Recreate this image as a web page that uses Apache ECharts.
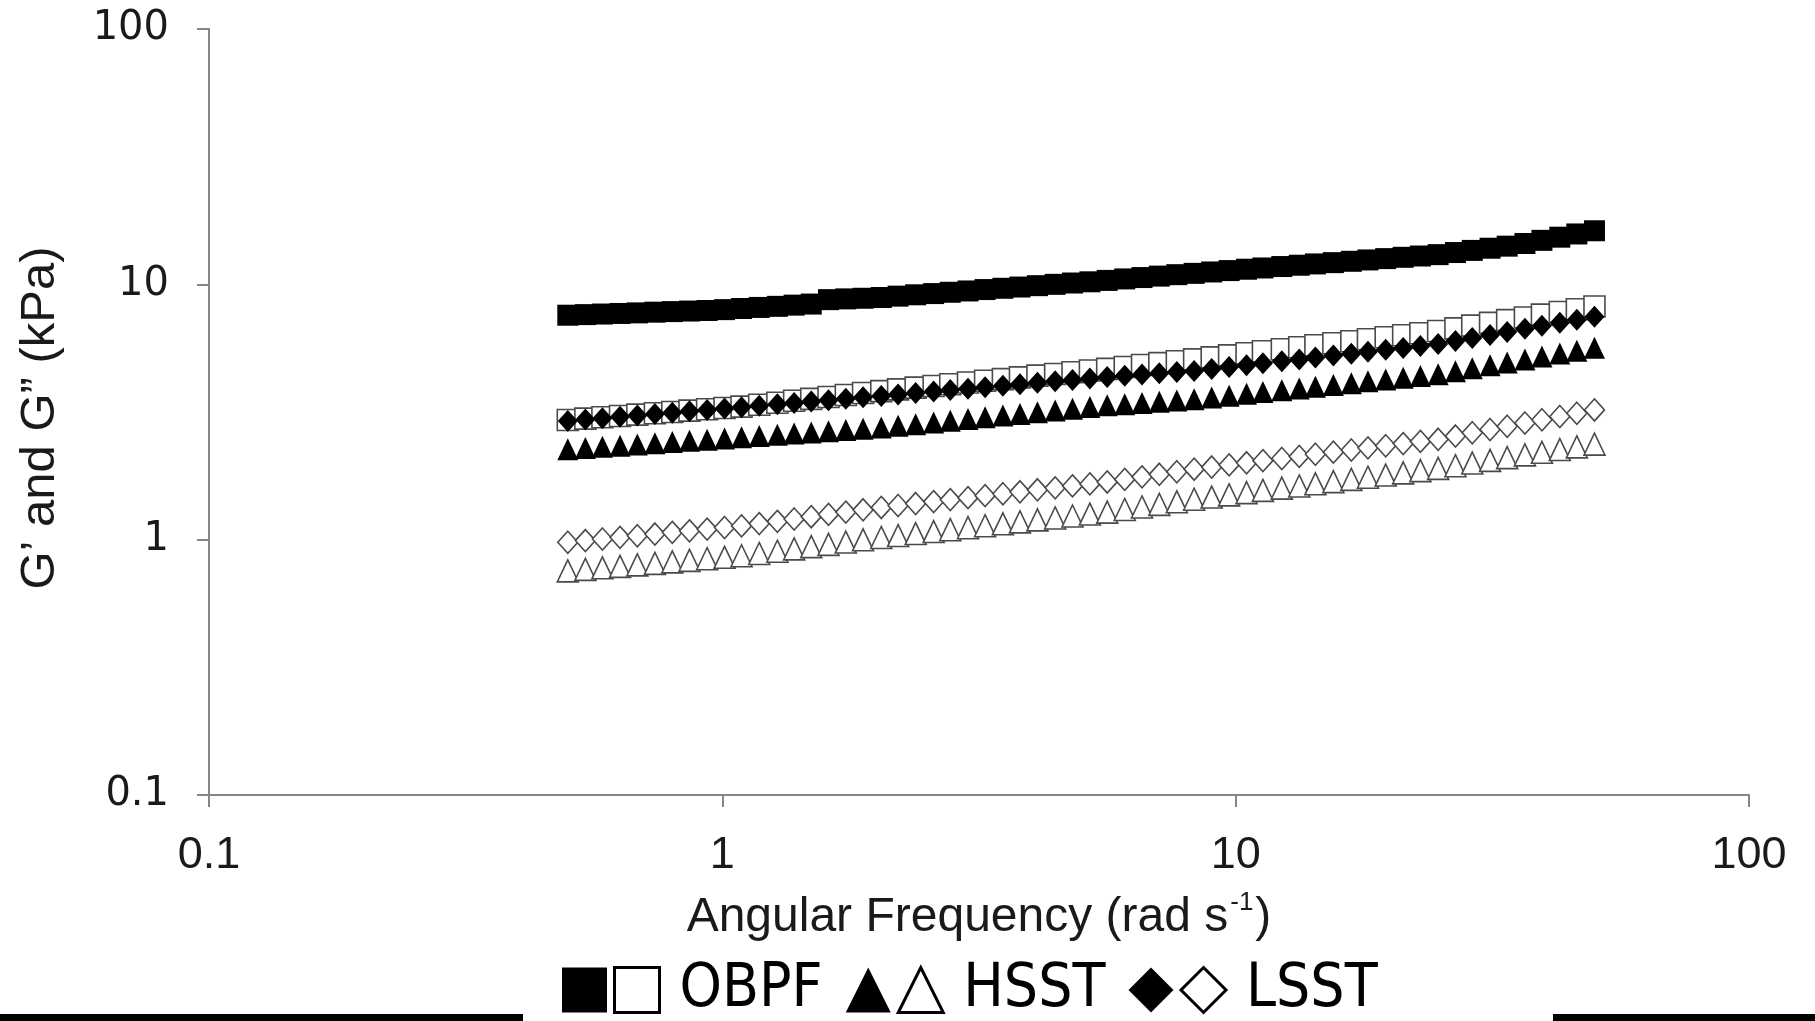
<!DOCTYPE html>
<html>
<head>
<meta charset="utf-8">
<script src="https://cdn.jsdelivr.net/npm/echarts@6/dist/echarts.min.js"></script>
<style>
html,body{margin:0;padding:0;background:#fff;}
#chart{width:1815px;height:1021px;}
</style>
</head>
<body>
<div id="chart"></div>
<script>
// Angular frequency (rad/s)
const freq = [0.5, 0.541, 0.584, 0.632, 0.683, 0.739, 0.799, 0.863, 0.934, 1.01,
  1.09, 1.18, 1.28, 1.38, 1.49, 1.61, 1.74, 1.88, 2.04, 2.20,
  2.38, 2.58, 2.78, 3.01, 3.25, 3.52, 3.80, 4.11, 4.45, 4.81,
  5.20, 5.62, 6.08, 6.57, 7.10, 7.68, 8.30, 8.98, 9.71, 10.5,
  11.3, 12.3, 13.3, 14.3, 15.5, 16.8, 18.1, 19.6, 21.2, 22.9,
  24.8, 26.8, 28.9, 31.3, 33.8, 36.6, 39.5, 42.8, 46.2, 50.0];

// OBPF G' (filled squares), kPa
const obpfG1 = [7.57, 7.61, 7.65, 7.69, 7.73, 7.78, 7.82, 7.86, 7.90, 7.96,
  8.04, 8.12, 8.20, 8.29, 8.37, 8.71, 8.77, 8.82, 8.88, 8.99,
  9.10, 9.20, 9.31, 9.42, 9.54, 9.65, 9.76, 9.88, 10.00, 10.12,
  10.23, 10.36, 10.50, 10.63, 10.77, 10.91, 11.04, 11.18, 11.32, 11.46,
  11.59, 11.74, 11.88, 12.02, 12.16, 12.31, 12.46, 12.61, 12.76, 12.91,
  13.07, 13.32, 13.58, 13.85, 14.11, 14.45, 14.87, 15.30, 15.75, 16.21];
// OBPF G'' (open squares)
const obpfG2 = [2.944, 2.980, 3.016, 3.052, 3.089, 3.126, 3.163, 3.201, 3.240, 3.279,
  3.319, 3.378, 3.437, 3.498, 3.560, 3.622, 3.686, 3.751, 3.819, 3.878,
  3.938, 4.000, 4.062, 4.125, 4.189, 4.254, 4.320, 4.388, 4.457, 4.526,
  4.597, 4.667, 4.747, 4.829, 4.912, 4.996, 5.082, 5.176, 5.271, 5.368,
  5.466, 5.567, 5.669, 5.773, 5.879, 5.987, 6.095, 6.207, 6.321, 6.437,
  6.561, 6.725, 6.893, 7.065, 7.241, 7.417, 7.607, 7.797, 7.992, 8.185];
// HSST G' (filled triangles)
const hsstG1 = [2.259, 2.284, 2.309, 2.334, 2.360, 2.385, 2.411, 2.438, 2.464, 2.491,
  2.518, 2.546, 2.573, 2.602, 2.630, 2.659, 2.688, 2.718, 2.748, 2.791,
  2.834, 2.878, 2.923, 2.968, 3.015, 3.061, 3.109, 3.157, 3.206, 3.256,
  3.307, 3.357, 3.394, 3.432, 3.470, 3.509, 3.548, 3.606, 3.664, 3.724,
  3.784, 3.846, 3.908, 3.972, 4.036, 4.102, 4.169, 4.236, 4.305, 4.375,
  4.446, 4.566, 4.690, 4.816, 4.945, 5.079, 5.215, 5.356, 5.500, 5.649];
// HSST G'' (open triangles)
const hsstG2 = [0.755, 0.765, 0.776, 0.786, 0.797, 0.808, 0.819, 0.830, 0.842, 0.853,
  0.865, 0.883, 0.901, 0.920, 0.939, 0.959, 0.979, 0.999, 1.020, 1.038,
  1.057, 1.076, 1.094, 1.114, 1.134, 1.154, 1.174, 1.195, 1.216, 1.238,
  1.260, 1.282, 1.313, 1.343, 1.375, 1.407, 1.440, 1.469, 1.498, 1.529,
  1.560, 1.591, 1.623, 1.655, 1.688, 1.722, 1.756, 1.791, 1.827, 1.864,
  1.901, 1.948, 1.996, 2.045, 2.095, 2.147, 2.199, 2.254, 2.309, 2.366];
// LSST G' (filled diamonds)
const lsstG1 = [2.917, 2.953, 2.990, 3.028, 3.066, 3.105, 3.143, 3.183, 3.223, 3.263,
  3.304, 3.346, 3.388, 3.431, 3.475, 3.519, 3.565, 3.610, 3.656, 3.705,
  3.754, 3.803, 3.853, 3.904, 3.956, 4.008, 4.061, 4.115, 4.169, 4.224,
  4.280, 4.335, 4.384, 4.432, 4.482, 4.531, 4.581, 4.661, 4.742, 4.825,
  4.909, 4.994, 5.082, 5.170, 5.260, 5.352, 5.445, 5.540, 5.636, 5.734,
  5.834, 5.996, 6.164, 6.336, 6.512, 6.694, 6.881, 7.073, 7.270, 7.472];
// LSST G'' (open diamonds)
const lsstG2 = [0.977, 0.992, 1.006, 1.021, 1.036, 1.052, 1.068, 1.083, 1.100, 1.116,
  1.132, 1.156, 1.180, 1.205, 1.230, 1.256, 1.282, 1.309, 1.337, 1.361,
  1.385, 1.410, 1.435, 1.461, 1.487, 1.513, 1.540, 1.568, 1.596, 1.624,
  1.653, 1.683, 1.722, 1.762, 1.803, 1.845, 1.888, 1.925, 1.962, 2.000,
  2.039, 2.079, 2.119, 2.160, 2.202, 2.245, 2.289, 2.333, 2.378, 2.425,
  2.472, 2.546, 2.622, 2.700, 2.781, 2.864, 2.949, 3.037, 3.127, 3.221];

const xTickLabels = ['0.1', '1', '10', '100'];
const yTickLabels = ['0.1', '1', '10', '100'];
const seriesNames = ['OBPF G\u2019', 'OBPF G\u201D', 'HSST G\u2019', 'HSST G\u201D', 'LSST G\u2019', 'LSST G\u201D'];
const legendLabels = ['', 'OBPF', '', 'HSST', '', 'LSST'];

const xTitle = 'Angular Frequency (rad s';
const xTitleSup = '-1';
const yTitle = 'G\u2019 and G\u201D (kPa)';

const filled = {color: '#000', borderWidth: 0, opacity: 1};
const open = {color: '#fff', borderColor: '#4a4a4a', borderWidth: 1.6, opacity: 1};

function pts(arr) { return freq.map((f, i) => [f, arr[i]]); }
function decadeLabel(labels) {
  return function (v) { return labels[Math.round(Math.log10(v)) + 1] || ''; };
}

const specs = [
  {data: obpfG1, symbol: 'rect', size: 21, style: filled},
  {data: obpfG2, symbol: 'rect', size: 21, style: open},
  {data: hsstG1, symbol: 'triangle', size: [21, 22], style: filled},
  {data: hsstG2, symbol: 'triangle', size: [21, 22], style: open},
  {data: lsstG1, symbol: 'diamond', size: [20, 22], style: filled},
  {data: lsstG2, symbol: 'diamond', size: [20, 22], style: open}
];

const series = specs.map((s, k) => ({
  name: seriesNames[k],
  type: 'scatter',
  symbol: s.symbol,
  symbolSize: s.size,
  itemStyle: s.style,
  data: pts(s.data),
  z: 2 + k,
  emphasis: {disabled: true}
}));

const chart = echarts.init(document.getElementById('chart'), null, {renderer: 'canvas'});
chart.setOption({
  animation: false,
  backgroundColor: '#fff',
  grid: {left: 209, right: 66, top: 29, bottom: 226, containLabel: false},
  xAxis: {
    type: 'log', logBase: 10, min: 0.1, max: 100,
    name: '{m|' + xTitle + '}{s|' + xTitleSup + '}{m|)}',
    nameLocation: 'middle', nameGap: 95,
    nameTextStyle: {
      rich: {
        m: {fontFamily: 'Liberation Sans', fontSize: 48, color: '#1a1a1a', lineHeight: 52, verticalAlign: 'bottom'},
        s: {fontFamily: 'Liberation Sans', fontSize: 26, color: '#1a1a1a', lineHeight: 52, verticalAlign: 'top', padding: [0, 2, 0, 2]}
      }
    },
    axisLine: {show: true, lineStyle: {color: '#868686', width: 2}},
    axisTick: {show: true, length: 12, lineStyle: {color: '#868686', width: 2}},
    minorTick: {show: false},
    splitLine: {show: false},
    axisLabel: {
      formatter: decadeLabel(xTickLabels), fontFamily: 'Liberation Sans', fontSize: 45,
      color: '#1a1a1a', margin: 38, lineHeight: 46
    }
  },
  yAxis: {
    type: 'log', logBase: 10, min: 0.1, max: 100,
    name: yTitle,
    nameLocation: 'middle', nameRotate: 90, nameGap: 144,
    nameTextStyle: {fontFamily: 'Liberation Sans', fontSize: 49, color: '#1a1a1a', padding: [0, 12, 0, 0]},
    axisLine: {show: true, lineStyle: {color: '#868686', width: 2}},
    axisTick: {show: true, length: 12, lineStyle: {color: '#868686', width: 2}},
    minorTick: {show: false},
    splitLine: {show: false},
    axisLabel: {
      formatter: decadeLabel(yTickLabels), fontFamily: 'DejaVu Sans', fontSize: 40,
      color: '#1a1a1a', margin: 40
    }
  },
  legend: {
    show: true,
    left: 557, top: 955,
    orient: 'horizontal',
    itemWidth: 45, itemHeight: 45, itemGap: 6,
    selectedMode: false,
    data: seriesNames.map((n, k) => ({
      name: n,
      itemStyle: k % 2 === 0 ? {color: '#000', borderWidth: 0, opacity: 1} : {color: '#fff', borderColor: '#000', borderWidth: 3, opacity: 1}
    })),
    formatter: function (name) {
      const lab = legendLabels[seriesNames.indexOf(name)];
      return lab ? '{t|' + lab + '\u00a0}' : '';
    },
    textStyle: {
      rich: {
        t: {fontFamily: '"Liberation Sans Narrow", "DejaVu Sans Condensed", "Liberation Sans"', fontSize: 60, color: '#000', padding: [0, 0, 0, 15]}
      }
    }
  },
  graphic: [
    {type: 'rect', left: 0, top: 1014, shape: {width: 523, height: 7}, style: {fill: '#000'}, silent: true},
    {type: 'rect', left: 1553, top: 1014, shape: {width: 262, height: 7}, style: {fill: '#000'}, silent: true}
  ],
  series: series
});
</script>
</body>
</html>
